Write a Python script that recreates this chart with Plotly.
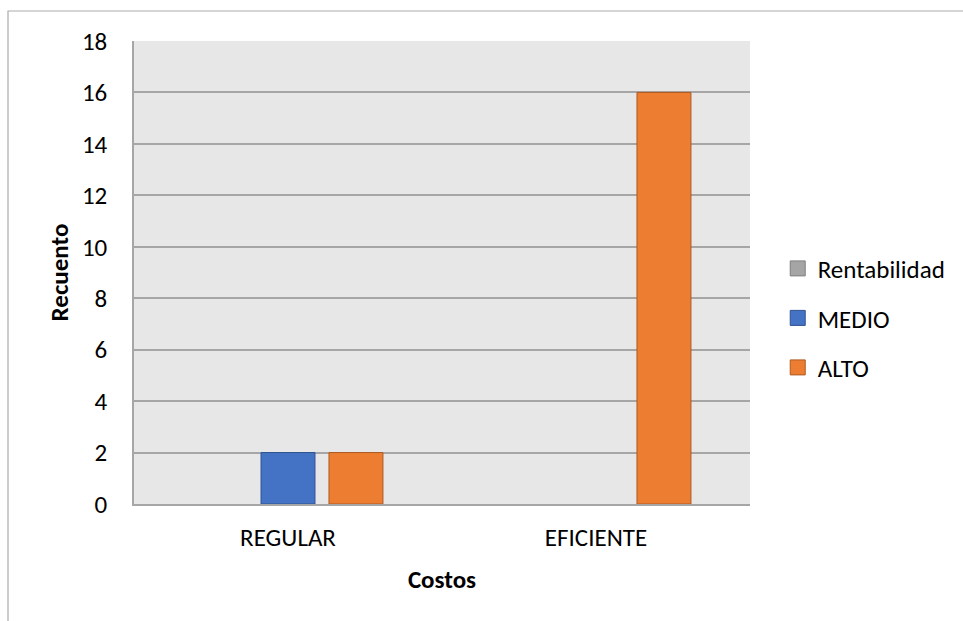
import plotly.graph_objects as go

# Categories on the x axis (Costos) and counts per Rentabilidad level
categories = ["REGULAR", "EFICIENTE"]
rentabilidad = [None, None]
medio = [2, None]
alto = [2, 16]

y_ticks = [0, 2, 4, 6, 8, 10, 12, 14, 16, 18]

FONT = "Calibri, Carlito, Lato, sans-serif"

series = [
    ("Rentabilidad", rentabilidad, "#A5A5A5", "#7F7F7F"),
    ("MEDIO", medio, "#4472C4", "#2F528F"),
    ("ALTO", alto, "#ED7D31", "#AE5A21"),
]

fig = go.Figure()
for name, vals, color, edge in series:
    fig.add_trace(go.Bar(
        x=categories, y=vals, name=name, legendgroup=name, showlegend=False,
        marker=dict(color=color, line=dict(color=edge, width=1)),
    ))
    # legend swatch: square marker keyed to the same group
    fig.add_trace(go.Scatter(
        x=[None], y=[None], mode="markers", name=name, legendgroup=name,
        marker=dict(symbol="square", size=15, color=color, line=dict(color=edge, width=1)),
    ))

fig.update_layout(
    width=963, height=621,
    margin=dict(l=134, r=213, t=41, b=117),
    paper_bgcolor="white",
    plot_bgcolor="#E7E7E7",
    barmode="group",
    bargap=0.338,
    bargroupgap=0.206,
    font=dict(family=FONT, size=25, color="#000000"),
    legend=dict(
        x=1.045, y=0.558, xanchor="left", yanchor="top",
        font=dict(family=FONT, size=25, color="#000000"),
        tracegroupgap=14, traceorder="grouped",
        itemsizing="trace",
        bgcolor="rgba(0,0,0,0)",
    ),
    xaxis=dict(
        showgrid=False, showline=True, linecolor="#A6A6A6", linewidth=1.5,
        ticks="", ticklabelstandoff=10,
        tickfont=dict(family=FONT, size=25),
        title=dict(text="<b>Costos</b>", font=dict(family=FONT, size=25), standoff=19),
    ),
    yaxis=dict(
        range=[0, 18], tickvals=y_ticks, showgrid=True, gridcolor="#A6A6A6", gridwidth=1.5,
        showline=True, linecolor="#A6A6A6", linewidth=1.5, zeroline=False,
        ticks="", ticklabelstandoff=20,
        tickfont=dict(family=FONT, size=25),
        title=dict(text="<b>Recuento</b>", font=dict(family=FONT, size=25), standoff=6),
    ),
    showlegend=True,
)

# Outer chart frame
fig.add_shape(type="rect", xref="paper", yref="paper",
              x0=(8 - 134) / 616, x1=2.0, y0=-1.0, y1=(504 - 11) / 463,
              line=dict(color="#ABABAB", width=1.2), fillcolor="rgba(0,0,0,0)", layer="below")

fig.write_html("out.html")
